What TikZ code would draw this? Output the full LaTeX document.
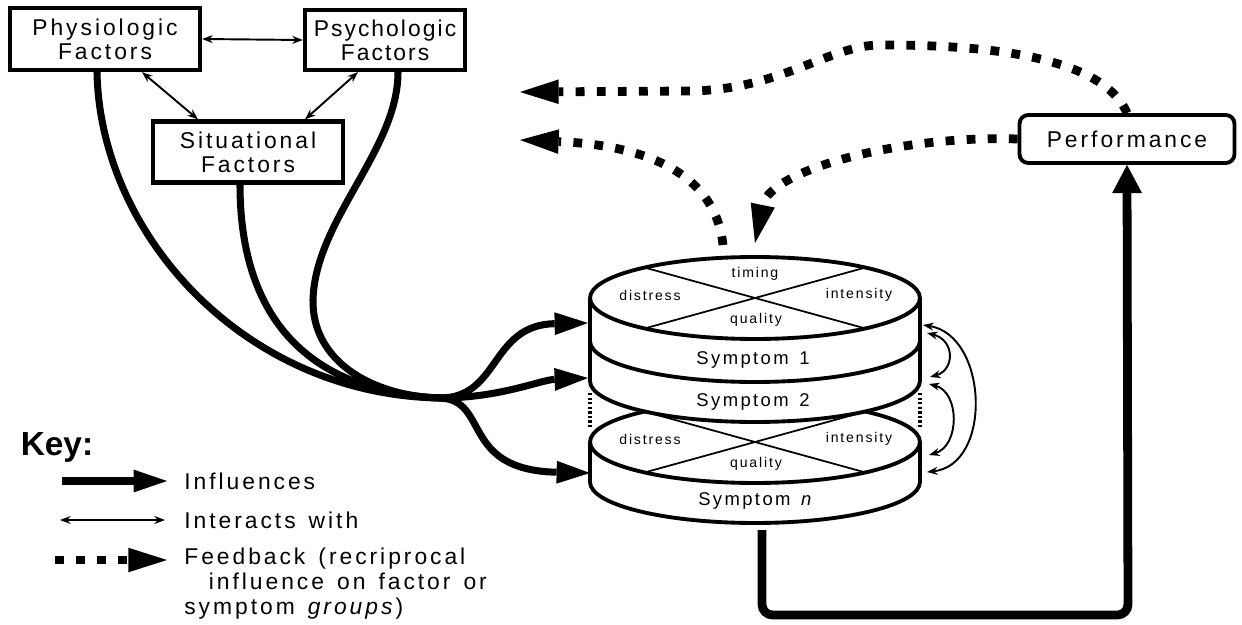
\documentclass[tikz,border=0pt]{standalone}
\usepackage{fontspec}
\setmainfont{Liberation Sans}
\newfontfamily\spaced{Liberation Sans}[LetterSpace=13,WordSpace=1.4]
\newfontfamily\narrowspaced{Liberation Sans}[LetterSpace=9,WordSpace=1.4]
\usetikzlibrary{arrows.meta,calc}

\newcommand{\boxfont}{\spaced\fontsize{13}{13.5}\selectfont}
\newcommand{\lidfont}{\spaced\fontsize{8}{9}\selectfont}
\newcommand{\symfont}{\spaced\fontsize{10.5}{12}\selectfont}
\def\rx{3.3cm}
\def\ry{0.82cm}
% lid of a symptom: #1 = centre y, #2 = name
\newcommand{\symptomlid}[2]{
  \fill[white] (755,#1) ellipse [x radius=\rx, y radius=\ry];
  \draw[cross] ({755+165*cos(228)},{#1+41*sin(228)}) -- ({755+165*cos(48)},{#1+41*sin(48)});
  \draw[cross] ({755+165*cos(312)},{#1+41*sin(312)}) -- ({755+165*cos(132)},{#1+41*sin(132)});
  \draw[cyl] (755,#1) ellipse [x radius=\rx, y radius=\ry];
  \node[lidlabel] (distress#2) at (650,#1-3) {distress};
  \node[lidlabel] (intensity#2) at (859,#1-3) {intensity};
  \node[lidlabel] (quality#2) at (756,#1+22) {quality};
}
\tikzset{
  factor/.style    = {draw, line width=2.4pt, minimum width=3.8cm, minimum height=1.24cm,
                      align=center, font=\boxfont, inner sep=1pt},
  perfbox/.style   = {draw, line width=2.2pt, rounded corners=5pt, minimum width=4.3cm,
                      minimum height=0.96cm, font=\boxfont},
  influence/.style = {line width=4pt, -{Triangle[length=19pt,width=13pt,line width=0pt]}},
  interact/.style  = {line width=1.1pt, {Stealth[length=6pt,width=4.5pt]}-{Stealth[length=6pt,width=4.5pt]}},
  feedback/.style  = {line width=5pt, dash pattern=on 5pt off 7pt,
                      -{Triangle[length=22pt,width=14pt,line width=0pt]}},
  cyl/.style       = {line width=2.2pt},
  cross/.style     = {line width=1pt},
  gap/.style       = {line width=2.4pt, dash pattern=on 1.3pt off 1.3pt},
  lidlabel/.style  = {font=\lidfont, inner sep=1pt},
  keytext/.style   = {font=\boxfont, anchor=west, inner sep=0pt},
}

\begin{document}
\begin{tikzpicture}[x=0.02cm, y=-0.02cm]
  \useasboundingbox (0,0) rectangle (1242,625);

  % factor groups
  \node[factor] (physio) at (105,39) {Physiologic\\Factors};
  \node[factor, minimum width=3.2cm, minimum height=1.2cm, font=\narrowspaced\fontsize{13}{13.5}\selectfont]
    (psycho) at (385,40) {Psychologic\\Factors};
  \node[factor, minimum height=1.22cm] (situ) at (248,152) {Situational\\Factors};
  \node[perfbox] (perf) at (1127,139) {Performance};

  \draw[interact] (physio.east) -- (psycho.west);
  \draw[interact] ($(physio.south)+(37,0)$) -- ($(situ.north)+(-50,0)$);
  \draw[interact] ($(psycho.south)+(-27,0)$) -- ($(situ.north)+(57,0)$);

  % symptom n
  \fill[white] (590,482) arc[start angle=180, end angle=360, x radius=\rx, y radius=\ry]
    -- (920,442) -- (590,442) -- cycle;
  \draw[cyl] (590,442) -- (590,482) arc[start angle=180, end angle=360, x radius=\rx, y radius=\ry] -- (920,442);
  \symptomlid{442}{n}
  \node[font=\symfont] (symn) at (756,501) {Symptom \textit{n}};

  % symptom 2
  \fill[white] (590,341) -- (590,381) arc[start angle=180, end angle=360, x radius=\rx, y radius=\ry]
    -- (920,341) arc[start angle=360, end angle=180, x radius=\rx, y radius=\ry] -- cycle;
  \draw[cyl] (590,341) -- (590,381) arc[start angle=180, end angle=360, x radius=\rx, y radius=\ry] -- (920,341);
  \node[font=\symfont] (sym2) at (753,402) {Symptom 2};
  \draw[gap] (590,393) -- (590,429);
  \draw[gap] (920,393) -- (920,429);

  % symptom 1
  \fill[white] (590,298) -- (590,341) arc[start angle=180, end angle=360, x radius=\rx, y radius=\ry]
    -- (920,298) -- cycle;
  \draw[cyl] (590,298) -- (590,341) arc[start angle=180, end angle=360, x radius=\rx, y radius=\ry] -- (920,298);
  \symptomlid{298}{one}
  \node[lidlabel] (timing) at (755,274) {timing};
  \node[font=\symfont] (sym1) at (753,360) {Symptom 1};

  % connector ends on the stack
  \coordinate (in1) at (588,323);
  \coordinate (in2) at (588,378);
  \coordinate (inn) at (590,473);
  \coordinate (join) at (440,398);
  \coordinate (r1a) at (923,325);
  \coordinate (r1b) at (927,333);
  \coordinate (r2a) at (930,377);
  \coordinate (r2b) at (929,384);
  \coordinate (rna) at (929,455);
  \coordinate (rnb) at (927,472);
  \coordinate (stacktop) at (723,245);
  \coordinate (stackbot) at (762,530);
  \coordinate (fb1) at (520,92);
  \coordinate (fb2) at (520,140);

  % influences
  \draw[line width=4pt] ($(physio.south)+(-8,0)$) .. controls (100,235) and (245,395) .. (join);
  \draw[line width=4pt] ($(situ.south)+(-8,0)$) .. controls (240,320) and (310,392) .. (join);
  \draw[line width=4pt] ($(psycho.south)+(13,0)$) .. controls (398,150) and (315,220) .. (313,300)
    .. controls (312,360) and (370,396) .. (join);
  \draw[influence] (join) .. controls (500,398) and (490,325) .. (in1);
  \draw[influence] (join) .. controls (500,398) and (540,380) .. (in2);
  \draw[influence] (join) .. controls (490,400) and (460,470) .. (inn);
  \draw[line width=5pt, rounded corners=6pt, -{Triangle[length=16pt,width=17pt,line width=0pt]}]
    (stackbot) -- (762,615) -- (1128,615) -- (perf.south);

  % interactions between symptoms
  \draw[interact] (r1a) .. controls (988,335) and (993,465) .. (rnb);
  \draw[interact] (r1b) .. controls (955,340) and (955,370) .. (r2a);
  \draw[interact] (r2b) .. controls (960,392) and (960,446) .. (rna);

  % feedback
  \draw[feedback] (perf.north) .. controls (1100,50) and (960,45) .. (880,45)
    .. controls (830,45) and (780,90) .. (690,91) -- (fb1);
  \draw[feedback] (perf.west) .. controls (900,135) and (770,170) .. (755,243);
  \draw[feedback] (stacktop) .. controls (715,170) and (640,145) .. (fb2);

  % key
  \node[font=\bfseries\fontsize{19}{22}\selectfont] (key) at (57,447) {Key:};
  \coordinate (k1a) at (62,481);  \coordinate (k1b) at (167,481);
  \coordinate (k2a) at (60,520);  \coordinate (k2b) at (165,520);
  \coordinate (k3a) at (55,560);  \coordinate (k3b) at (167,560);
  \draw[influence] (k1a) -- (k1b);
  \draw[interact] (k2a) -- (k2b);
  \draw[feedback] (k3a) -- (k3b);
  \node[keytext] (kinf) at (184,481) {Influences};
  \node[keytext] (kint) at (184,520) {Interacts with};
  \node[keytext, anchor=north west, align=left, font=\spaced\fontsize{13}{14.2}\selectfont]
    (kfb) at (184,548) {Feedback (recriprocal\\\hspace*{14pt}influence on factor or\\symptom \textit{groups})};
\end{tikzpicture}
\end{document}
